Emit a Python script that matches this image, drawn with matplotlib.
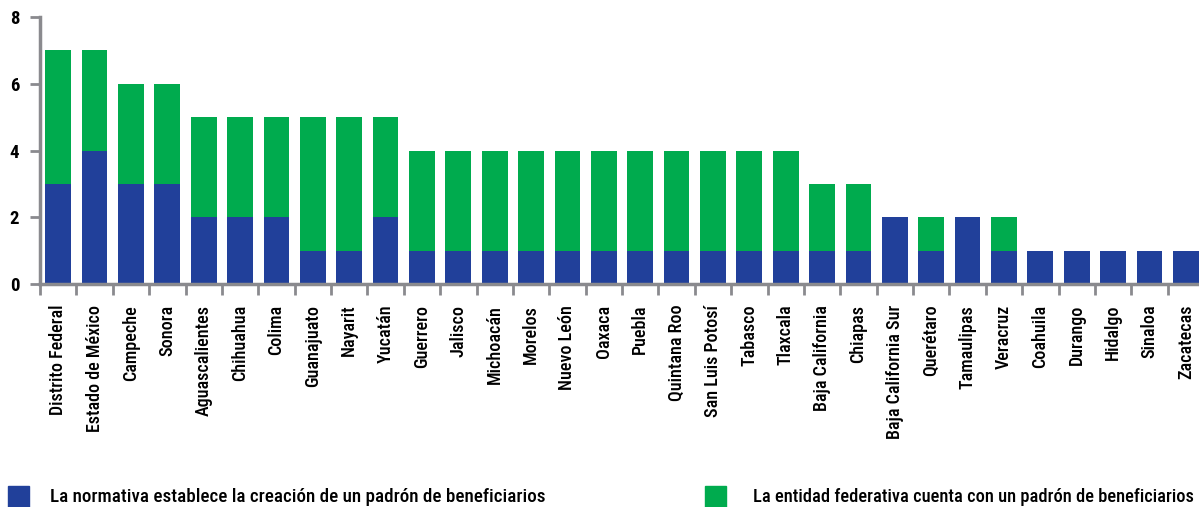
import matplotlib
matplotlib.use("Agg")
import matplotlib.pyplot as plt
import numpy as np
from matplotlib import font_manager

states = ["Distrito Federal", "Estado de México", "Campeche", "Sonora", "Aguascalientes",
          "Chihuahua", "Colima", "Guanajuato", "Nayarit", "Yucatán", "Guerrero", "Jalisco",
          "Michoacán", "Morelos", "Nuevo León", "Oaxaca", "Puebla", "Quintana Roo",
          "San Luis Potosí", "Tabasco", "Tlaxcala", "Baja California", "Chiapas",
          "Baja California Sur", "Querétaro", "Tamaulipas", "Veracruz", "Coahuila",
          "Durango", "Hidalgo", "Sinaloa", "Zacatecas"]
normativa = [3, 4, 3, 3, 2, 2, 2, 1, 1, 2, 1, 1, 1, 1, 1, 1, 1, 1, 1, 1, 1, 1, 1,
             2, 1, 2, 1, 1, 1, 1, 1, 1]
padron = [4, 3, 3, 3, 3, 3, 3, 4, 4, 3, 3, 3, 3, 3, 3, 3, 3, 3, 3, 3, 3, 2, 2,
          0, 1, 0, 1, 0, 0, 0, 0, 0]
yticks = [0, 2, 4, 6, 8]
legend_labels = ["La normativa establece la creación de un padrón de beneficiarios",
                 "La entidad federativa cuenta con un padrón de beneficiarios"]

BLUE = "#21409A"
GREEN = "#00AB4E"
GRAY = "#8a8a8e"

installed = {f.name for f in font_manager.fontManager.ttflist}
family = next((f for f in ("Roboto Condensed", "Archivo Narrow", "PT Sans Narrow")
               if f in installed), "DejaVu Sans")
plt.rcParams["font.family"] = [family, "DejaVu Sans"]

fig = plt.figure(figsize=(11.99, 5.07), dpi=100)
ax = fig.add_axes([40 / 1199, 223 / 507, 1164 / 1199, 267 / 507])

x = np.arange(len(states))
ax.bar(x, normativa, width=0.71, color=BLUE, zorder=2)
ax.bar(x, padron, width=0.71, bottom=normativa, color=GREEN, zorder=2)

ax.set_xlim(-0.5, len(states) - 0.5)
ax.set_ylim(0, 8)
ax.set_yticks(yticks)
ax.set_yticklabels([str(v) for v in yticks], fontsize=13.5, fontweight="bold")
ax.set_xticks(x)
ax.set_xticklabels(states, rotation=90, fontsize=13, fontweight="medium",
                   ha="center", va="top")
ax.set_xticks(np.arange(len(states) + 1) - 0.5, minor=True)
ax.tick_params(axis="x", which="major", length=0, pad=15)
ax.tick_params(axis="x", which="minor", length=8, width=2, color=GRAY)
ax.tick_params(axis="y", length=7, width=2, color=GRAY, pad=8)

for side in ("top", "right"):
    ax.spines[side].set_visible(False)
for side in ("left", "bottom"):
    ax.spines[side].set_color(GRAY)
    ax.spines[side].set_linewidth(2.5)

# legend drawn as plain squares and text along the bottom
for (px, tx), color, label, size in zip([(8, 50), (705, 753)], [BLUE, GREEN],
                                        legend_labels, [13.7, 13.2]):
    fig.patches.append(plt.Rectangle((px / 1199, 0), 21 / 1199, 21 / 507,
                                     transform=fig.transFigure, color=color))
    fig.text(tx / 1199, 10 / 507, label, fontsize=size, fontweight="medium",
             va="center", ha="left")

fig.savefig("out.png", dpi=100)
